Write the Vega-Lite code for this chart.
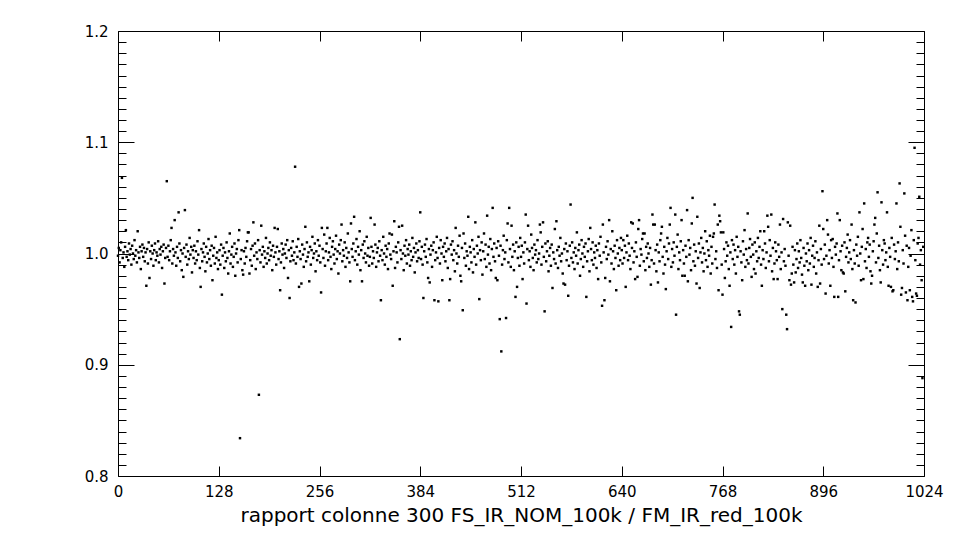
{
"$schema": "https://vega.github.io/schema/vega-lite/v6.json",
"width": 806, "height": 445,
"autosize": "none",
"padding": {"left": 118, "top": 31, "right": 36, "bottom": 64},
"background": "white",
"config": {"view": {"stroke": "black", "strokeWidth": 1}, "axis": {"domain": false, "ticks": false, "grid": true, "gridColor": "black", "gridOpacity": 1, "gridWidth": 1, "labelColor": "black", "titleColor": "black", "labelFont": "DejaVu Sans", "titleFont": "DejaVu Sans", "labelFontSize": 15, "titleFontSize": 20, "titleFontWeight": "normal"}},
"data": {"values": [
{"x":0,"y":0.998},{"x":1,"y":1.005},{"x":2,"y":0.992},{"x":3,"y":1.003},{"x":4,"y":1.010},{"x":5,"y":1.068},{"x":6,"y":0.996},{"x":7,"y":1.001},{"x":8,"y":0.988},{"x":9,"y":1.006},{"x":10,"y":1.021},{"x":11,"y":0.997},{"x":12,"y":1.002},{"x":13,"y":0.994},{"x":14,"y":1.009},{"x":15,"y":0.999},{"x":16,"y":1.004},{"x":17,"y":0.990},{"x":18,"y":1.007},{"x":19,"y":1.000},{"x":20,"y":0.995},{"x":21,"y":1.012},{"x":22,"y":0.998},{"x":23,"y":1.003},{"x":24,"y":0.992},{"x":25,"y":1.020},{"x":26,"y":1.001},{"x":27,"y":0.996},{"x":28,"y":1.006},{"x":29,"y":0.986},{"x":30,"y":1.002},{"x":31,"y":1.008},
{"x":32,"y":0.997},{"x":33,"y":1.005},{"x":34,"y":0.993},{"x":35,"y":1.001},{"x":36,"y":0.971},{"x":37,"y":1.004},{"x":38,"y":0.991},{"x":39,"y":1.010},{"x":40,"y":0.978},{"x":41,"y":1.002},{"x":42,"y":0.995},{"x":43,"y":1.007},{"x":44,"y":1.000},{"x":45,"y":0.989},{"x":46,"y":1.003},{"x":47,"y":1.009},{"x":48,"y":0.994},{"x":49,"y":1.001},{"x":50,"y":0.998},{"x":51,"y":1.011},{"x":52,"y":0.992},{"x":53,"y":1.004},{"x":54,"y":0.999},{"x":55,"y":1.006},{"x":56,"y":0.987},{"x":57,"y":1.002},{"x":58,"y":1.008},{"x":59,"y":0.973},{"x":60,"y":0.996},{"x":61,"y":1.005},{"x":62,"y":1.065},{"x":63,"y":0.997},
{"x":64,"y":1.007},{"x":65,"y":0.994},{"x":66,"y":1.002},{"x":67,"y":1.012},{"x":68,"y":1.023},{"x":69,"y":0.991},{"x":70,"y":1.004},{"x":71,"y":0.998},{"x":72,"y":1.030},{"x":73,"y":1.001},{"x":74,"y":0.989},{"x":75,"y":1.006},{"x":76,"y":0.996},{"x":77,"y":1.037},{"x":78,"y":1.009},{"x":79,"y":0.993},{"x":80,"y":1.003},{"x":81,"y":0.985},{"x":82,"y":1.000},{"x":83,"y":0.979},{"x":84,"y":1.005},{"x":85,"y":1.039},{"x":86,"y":0.997},{"x":87,"y":1.008},{"x":88,"y":0.990},{"x":89,"y":1.002},{"x":90,"y":0.995},{"x":91,"y":1.014},{"x":92,"y":0.999},{"x":93,"y":1.006},{"x":94,"y":0.983},{"x":95,"y":1.003},
{"x":96,"y":0.996},{"x":97,"y":1.007},{"x":98,"y":0.991},{"x":99,"y":1.002},{"x":100,"y":0.994},{"x":101,"y":1.011},{"x":102,"y":0.999},{"x":103,"y":1.021},{"x":104,"y":0.987},{"x":105,"y":0.970},{"x":106,"y":1.004},{"x":107,"y":0.993},{"x":108,"y":1.001},{"x":109,"y":1.009},{"x":110,"y":0.997},{"x":111,"y":0.984},{"x":112,"y":1.006},{"x":113,"y":0.992},{"x":114,"y":1.000},{"x":115,"y":1.013},{"x":116,"y":0.995},{"x":117,"y":1.003},{"x":118,"y":0.989},{"x":119,"y":1.007},{"x":120,"y":0.976},{"x":121,"y":0.998},{"x":122,"y":1.005},{"x":123,"y":0.991},{"x":124,"y":1.015},{"x":125,"y":0.996},{"x":126,"y":1.001},{"x":127,"y":0.986},
{"x":128,"y":0.994},{"x":129,"y":1.003},{"x":130,"y":0.990},{"x":131,"y":1.008},{"x":132,"y":0.963},{"x":133,"y":0.998},{"x":134,"y":1.005},{"x":135,"y":0.987},{"x":136,"y":1.001},{"x":137,"y":0.993},{"x":138,"y":1.010},{"x":139,"y":0.996},{"x":140,"y":0.982},{"x":141,"y":1.002},{"x":142,"y":1.018},{"x":143,"y":0.991},{"x":144,"y":0.999},{"x":145,"y":1.006},{"x":146,"y":0.988},{"x":147,"y":0.997},{"x":148,"y":1.009},{"x":149,"y":0.980},{"x":150,"y":1.000},{"x":151,"y":1.004},{"x":152,"y":0.992},{"x":153,"y":1.012},{"x":154,"y":1.021},{"x":155,"y":0.834},{"x":156,"y":0.995},{"x":157,"y":1.003},{"x":158,"y":0.985},{"x":159,"y":0.981},
{"x":160,"y":1.002},{"x":161,"y":0.991},{"x":162,"y":1.005},{"x":163,"y":0.997},{"x":164,"y":1.011},{"x":165,"y":1.019},{"x":166,"y":1.019},{"x":167,"y":0.982},{"x":168,"y":0.994},{"x":169,"y":1.004},{"x":170,"y":0.989},{"x":171,"y":1.007},{"x":172,"y":1.028},{"x":173,"y":0.998},{"x":174,"y":1.009},{"x":175,"y":0.986},{"x":176,"y":1.001},{"x":177,"y":0.995},{"x":178,"y":1.012},{"x":179,"y":0.873},{"x":180,"y":1.003},{"x":181,"y":0.992},{"x":182,"y":1.025},{"x":183,"y":0.999},{"x":184,"y":1.006},{"x":185,"y":0.988},{"x":186,"y":1.002},{"x":187,"y":0.996},{"x":188,"y":1.014},{"x":189,"y":0.991},{"x":190,"y":1.000},{"x":191,"y":1.005},
{"x":192,"y":0.994},{"x":193,"y":1.010},{"x":194,"y":0.998},{"x":195,"y":1.003},{"x":196,"y":0.985},{"x":197,"y":1.007},{"x":198,"y":0.997},{"x":199,"y":1.023},{"x":200,"y":1.001},{"x":201,"y":0.990},{"x":202,"y":1.006},{"x":203,"y":1.022},{"x":204,"y":0.995},{"x":205,"y":1.002},{"x":206,"y":0.967},{"x":207,"y":0.992},{"x":208,"y":1.009},{"x":209,"y":0.999},{"x":210,"y":1.004},{"x":211,"y":0.987},{"x":212,"y":1.000},{"x":213,"y":1.008},{"x":214,"y":0.996},{"x":215,"y":1.012},{"x":216,"y":0.978},{"x":217,"y":1.003},{"x":218,"y":0.960},{"x":219,"y":0.993},{"x":220,"y":1.005},{"x":221,"y":0.998},{"x":222,"y":1.011},{"x":223,"y":0.994},
{"x":224,"y":1.001},{"x":225,"y":1.078},{"x":226,"y":0.991},{"x":227,"y":1.006},{"x":228,"y":0.997},{"x":229,"y":1.013},{"x":230,"y":0.970},{"x":231,"y":1.002},{"x":232,"y":0.995},{"x":233,"y":0.973},{"x":234,"y":1.008},{"x":235,"y":0.999},{"x":236,"y":0.988},{"x":237,"y":1.004},{"x":238,"y":1.024},{"x":239,"y":0.993},{"x":240,"y":1.010},{"x":241,"y":0.997},{"x":242,"y":1.001},{"x":243,"y":0.975},{"x":244,"y":1.006},{"x":245,"y":0.990},{"x":246,"y":1.003},{"x":247,"y":1.015},{"x":248,"y":0.996},{"x":249,"y":1.000},{"x":250,"y":1.009},{"x":251,"y":0.984},{"x":252,"y":1.002},{"x":253,"y":0.994},{"x":254,"y":1.012},{"x":255,"y":0.998},
{"x":256,"y":1.007},{"x":257,"y":0.992},{"x":258,"y":0.965},{"x":259,"y":1.023},{"x":260,"y":1.004},{"x":261,"y":0.996},{"x":262,"y":1.017},{"x":263,"y":0.989},{"x":264,"y":1.002},{"x":265,"y":1.009},{"x":266,"y":1.023},{"x":267,"y":0.994},{"x":268,"y":1.001},{"x":269,"y":1.014},{"x":270,"y":0.997},{"x":271,"y":0.986},{"x":272,"y":1.006},{"x":273,"y":1.011},{"x":274,"y":0.999},{"x":275,"y":0.991},{"x":276,"y":1.004},{"x":277,"y":1.016},{"x":278,"y":0.995},{"x":279,"y":1.002},{"x":280,"y":0.982},{"x":281,"y":1.008},{"x":282,"y":1.000},{"x":283,"y":1.012},{"x":284,"y":1.026},{"x":285,"y":0.993},{"x":286,"y":1.003},{"x":287,"y":0.998},
{"x":288,"y":1.010},{"x":289,"y":0.988},{"x":290,"y":1.005},{"x":291,"y":0.996},{"x":292,"y":1.018},{"x":293,"y":1.001},{"x":294,"y":0.992},{"x":295,"y":0.975},{"x":296,"y":1.027},{"x":297,"y":1.004},{"x":298,"y":0.997},{"x":299,"y":1.009},{"x":300,"y":1.033},{"x":301,"y":0.994},{"x":302,"y":1.002},{"x":303,"y":1.013},{"x":304,"y":0.990},{"x":305,"y":1.006},{"x":306,"y":0.999},{"x":307,"y":1.020},{"x":308,"y":0.985},{"x":309,"y":1.003},{"x":310,"y":0.975},{"x":311,"y":1.008},{"x":312,"y":0.996},{"x":313,"y":1.011},{"x":314,"y":1.000},{"x":315,"y":0.992},{"x":316,"y":1.015},{"x":317,"y":0.998},{"x":318,"y":1.005},{"x":319,"y":0.989},
{"x":320,"y":0.997},{"x":321,"y":1.032},{"x":322,"y":1.006},{"x":323,"y":0.991},{"x":324,"y":1.002},{"x":325,"y":0.996},{"x":326,"y":1.026},{"x":327,"y":1.008},{"x":328,"y":0.988},{"x":329,"y":1.001},{"x":330,"y":1.005},{"x":331,"y":0.993},{"x":332,"y":1.011},{"x":333,"y":0.998},{"x":334,"y":0.958},{"x":335,"y":1.003},{"x":336,"y":0.994},{"x":337,"y":1.015},{"x":338,"y":1.000},{"x":339,"y":0.990},{"x":340,"y":1.007},{"x":341,"y":0.997},{"x":342,"y":1.004},{"x":343,"y":0.986},{"x":344,"y":1.009},{"x":345,"y":1.018},{"x":346,"y":0.999},{"x":347,"y":0.995},{"x":348,"y":1.017},{"x":349,"y":0.971},{"x":350,"y":1.002},{"x":351,"y":1.029},
{"x":352,"y":0.987},{"x":353,"y":1.006},{"x":354,"y":1.001},{"x":355,"y":0.992},{"x":356,"y":1.010},{"x":357,"y":1.024},{"x":358,"y":0.923},{"x":359,"y":1.003},{"x":360,"y":0.995},{"x":361,"y":1.025},{"x":362,"y":1.000},{"x":363,"y":0.985},{"x":364,"y":1.007},{"x":365,"y":0.998},{"x":366,"y":1.012},{"x":367,"y":0.991},{"x":368,"y":1.004},{"x":369,"y":0.999},{"x":370,"y":1.008},{"x":371,"y":0.989},{"x":372,"y":1.002},{"x":373,"y":0.994},{"x":374,"y":1.014},{"x":375,"y":0.997},{"x":376,"y":1.005},{"x":377,"y":0.983},{"x":378,"y":1.001},{"x":379,"y":1.009},{"x":380,"y":0.993},{"x":381,"y":1.003},{"x":382,"y":0.996},{"x":383,"y":1.011},
{"x":384,"y":1.037},{"x":385,"y":0.995},{"x":386,"y":1.006},{"x":387,"y":0.990},{"x":388,"y":0.960},{"x":389,"y":1.002},{"x":390,"y":1.008},{"x":391,"y":0.997},{"x":392,"y":1.013},{"x":393,"y":0.992},{"x":394,"y":0.978},{"x":395,"y":1.004},{"x":396,"y":0.974},{"x":397,"y":0.999},{"x":398,"y":1.007},{"x":399,"y":0.988},{"x":400,"y":1.003},{"x":401,"y":1.010},{"x":402,"y":0.958},{"x":403,"y":0.994},{"x":404,"y":1.001},{"x":405,"y":1.015},{"x":406,"y":0.996},{"x":407,"y":0.957},{"x":408,"y":1.005},{"x":409,"y":0.991},{"x":410,"y":1.012},{"x":411,"y":1.000},{"x":412,"y":0.976},{"x":413,"y":1.006},{"x":414,"y":0.997},{"x":415,"y":1.009},
{"x":416,"y":0.993},{"x":417,"y":1.002},{"x":418,"y":1.014},{"x":419,"y":0.987},{"x":420,"y":1.004},{"x":421,"y":0.958},{"x":422,"y":0.977},{"x":423,"y":1.008},{"x":424,"y":0.999},{"x":425,"y":1.011},{"x":426,"y":0.994},{"x":427,"y":1.003},{"x":428,"y":0.984},{"x":429,"y":1.023},{"x":430,"y":1.000},{"x":431,"y":0.991},{"x":432,"y":1.007},{"x":433,"y":0.997},{"x":434,"y":1.016},{"x":435,"y":0.980},{"x":436,"y":0.975},{"x":437,"y":1.005},{"x":438,"y":0.949},{"x":439,"y":1.018},{"x":440,"y":0.996},{"x":441,"y":1.009},{"x":442,"y":0.989},{"x":443,"y":1.002},{"x":444,"y":0.998},{"x":445,"y":1.033},{"x":446,"y":0.986},{"x":447,"y":1.006},
{"x":448,"y":1.001},{"x":449,"y":0.992},{"x":450,"y":1.012},{"x":451,"y":0.983},{"x":452,"y":1.004},{"x":453,"y":0.997},{"x":454,"y":1.028},{"x":455,"y":0.990},{"x":456,"y":1.007},{"x":457,"y":1.000},{"x":458,"y":1.015},{"x":459,"y":0.959},{"x":460,"y":1.003},{"x":461,"y":0.994},{"x":462,"y":1.010},{"x":463,"y":0.981},{"x":464,"y":1.002},{"x":465,"y":1.018},{"x":466,"y":0.995},{"x":467,"y":1.008},{"x":468,"y":0.988},{"x":469,"y":1.034},{"x":470,"y":0.999},{"x":471,"y":1.006},{"x":472,"y":0.991},{"x":473,"y":1.013},{"x":474,"y":0.985},{"x":475,"y":1.004},{"x":476,"y":1.041},{"x":477,"y":0.997},{"x":478,"y":1.009},{"x":479,"y":0.993},
{"x":480,"y":0.978},{"x":481,"y":1.005},{"x":482,"y":0.976},{"x":483,"y":1.011},{"x":484,"y":0.998},{"x":485,"y":0.941},{"x":486,"y":1.007},{"x":487,"y":0.912},{"x":488,"y":0.990},{"x":489,"y":1.003},{"x":490,"y":1.016},{"x":491,"y":0.995},{"x":492,"y":1.001},{"x":493,"y":0.942},{"x":494,"y":1.012},{"x":495,"y":1.027},{"x":496,"y":0.992},{"x":497,"y":1.041},{"x":498,"y":1.004},{"x":499,"y":0.988},{"x":500,"y":1.025},{"x":501,"y":0.997},{"x":502,"y":1.008},{"x":503,"y":0.985},{"x":504,"y":1.002},{"x":505,"y":0.961},{"x":506,"y":1.010},{"x":507,"y":0.970},{"x":508,"y":0.996},{"x":509,"y":1.006},{"x":510,"y":0.989},{"x":511,"y":1.014},
{"x":512,"y":0.997},{"x":513,"y":1.007},{"x":514,"y":0.977},{"x":515,"y":1.001},{"x":516,"y":0.991},{"x":517,"y":1.010},{"x":518,"y":1.035},{"x":519,"y":0.955},{"x":520,"y":1.004},{"x":521,"y":1.025},{"x":522,"y":0.994},{"x":523,"y":1.002},{"x":524,"y":0.988},{"x":525,"y":1.017},{"x":526,"y":1.005},{"x":527,"y":0.996},{"x":528,"y":0.985},{"x":529,"y":1.008},{"x":530,"y":0.999},{"x":531,"y":1.003},{"x":532,"y":0.992},{"x":533,"y":1.012},{"x":534,"y":0.995},{"x":535,"y":1.000},{"x":536,"y":1.026},{"x":537,"y":1.019},{"x":538,"y":0.990},{"x":539,"y":1.006},{"x":540,"y":1.028},{"x":541,"y":0.997},{"x":542,"y":0.948},{"x":543,"y":1.009},
{"x":544,"y":0.993},{"x":545,"y":1.002},{"x":546,"y":1.011},{"x":547,"y":0.984},{"x":548,"y":0.998},{"x":549,"y":1.005},{"x":550,"y":0.989},{"x":551,"y":1.008},{"x":552,"y":0.969},{"x":553,"y":1.001},{"x":554,"y":0.995},{"x":555,"y":1.022},{"x":556,"y":0.991},{"x":557,"y":1.029},{"x":558,"y":1.003},{"x":559,"y":0.987},{"x":560,"y":1.006},{"x":561,"y":0.998},{"x":562,"y":1.014},{"x":563,"y":0.993},{"x":564,"y":1.000},{"x":565,"y":0.982},{"x":566,"y":0.973},{"x":567,"y":1.004},{"x":568,"y":0.972},{"x":569,"y":1.009},{"x":570,"y":0.994},{"x":571,"y":1.002},{"x":572,"y":0.962},{"x":573,"y":0.989},{"x":574,"y":1.007},{"x":575,"y":1.044},
{"x":576,"y":0.996},{"x":577,"y":1.010},{"x":578,"y":0.992},{"x":579,"y":1.001},{"x":580,"y":0.986},{"x":581,"y":1.005},{"x":582,"y":0.998},{"x":583,"y":1.019},{"x":584,"y":0.991},{"x":585,"y":1.003},{"x":586,"y":1.008},{"x":587,"y":0.980},{"x":588,"y":0.995},{"x":589,"y":1.012},{"x":590,"y":1.000},{"x":591,"y":0.988},{"x":592,"y":1.006},{"x":593,"y":0.997},{"x":594,"y":1.009},{"x":595,"y":0.961},{"x":596,"y":0.993},{"x":597,"y":1.002},{"x":598,"y":1.013},{"x":599,"y":0.984},{"x":600,"y":1.023},{"x":601,"y":1.004},{"x":602,"y":0.994},{"x":603,"y":1.010},{"x":604,"y":0.990},{"x":605,"y":1.001},{"x":606,"y":0.996},{"x":607,"y":1.007},
{"x":608,"y":0.987},{"x":609,"y":1.003},{"x":610,"y":0.977},{"x":611,"y":1.009},{"x":612,"y":0.998},{"x":613,"y":1.015},{"x":614,"y":0.992},{"x":615,"y":0.953},{"x":616,"y":1.026},{"x":617,"y":1.001},{"x":618,"y":0.958},{"x":619,"y":0.978},{"x":620,"y":1.006},{"x":621,"y":0.995},{"x":622,"y":1.011},{"x":623,"y":0.999},{"x":624,"y":1.030},{"x":625,"y":0.975},{"x":626,"y":1.004},{"x":627,"y":0.991},{"x":628,"y":1.020},{"x":629,"y":1.002},{"x":630,"y":0.986},{"x":631,"y":1.007},{"x":632,"y":0.996},{"x":633,"y":0.967},{"x":634,"y":1.012},{"x":635,"y":1.000},{"x":636,"y":0.989},{"x":637,"y":1.005},{"x":638,"y":0.994},{"x":639,"y":1.014},
{"x":640,"y":1.003},{"x":641,"y":0.991},{"x":642,"y":1.012},{"x":643,"y":0.996},{"x":644,"y":1.007},{"x":645,"y":0.970},{"x":646,"y":1.001},{"x":647,"y":1.016},{"x":648,"y":0.994},{"x":649,"y":1.009},{"x":650,"y":0.998},{"x":651,"y":0.986},{"x":652,"y":1.028},{"x":653,"y":1.005},{"x":654,"y":1.027},{"x":655,"y":0.992},{"x":656,"y":1.002},{"x":657,"y":0.977},{"x":658,"y":1.010},{"x":659,"y":0.997},{"x":660,"y":0.979},{"x":661,"y":1.022},{"x":662,"y":1.030},{"x":663,"y":0.989},{"x":664,"y":1.004},{"x":665,"y":0.999},{"x":666,"y":1.013},{"x":667,"y":1.018},{"x":668,"y":0.993},{"x":669,"y":1.018},{"x":670,"y":0.985},{"x":671,"y":1.006},
{"x":672,"y":0.996},{"x":673,"y":1.009},{"x":674,"y":1.000},{"x":675,"y":0.988},{"x":676,"y":1.005},{"x":677,"y":0.972},{"x":678,"y":0.994},{"x":679,"y":1.035},{"x":680,"y":1.026},{"x":681,"y":0.991},{"x":682,"y":1.026},{"x":683,"y":1.003},{"x":684,"y":0.984},{"x":685,"y":1.008},{"x":686,"y":0.974},{"x":687,"y":1.001},{"x":688,"y":0.993},{"x":689,"y":1.012},{"x":690,"y":1.018},{"x":691,"y":1.024},{"x":692,"y":0.997},{"x":693,"y":0.982},{"x":694,"y":1.006},{"x":695,"y":0.990},{"x":696,"y":0.968},{"x":697,"y":1.002},{"x":698,"y":1.014},{"x":699,"y":0.995},{"x":700,"y":1.009},{"x":701,"y":1.026},{"x":702,"y":1.041},{"x":703,"y":0.988},
{"x":704,"y":1.004},{"x":705,"y":0.992},{"x":706,"y":1.010},{"x":707,"y":0.998},{"x":708,"y":1.035},{"x":709,"y":0.945},{"x":710,"y":1.006},{"x":711,"y":1.017},{"x":712,"y":0.986},{"x":713,"y":1.001},{"x":714,"y":0.994},{"x":715,"y":1.011},{"x":716,"y":1.030},{"x":717,"y":0.980},{"x":718,"y":1.003},{"x":719,"y":0.991},{"x":720,"y":0.980},{"x":721,"y":1.007},{"x":722,"y":0.997},{"x":723,"y":1.039},{"x":724,"y":0.975},{"x":725,"y":1.012},{"x":726,"y":0.999},{"x":727,"y":1.005},{"x":728,"y":0.985},{"x":729,"y":1.027},{"x":730,"y":1.050},{"x":731,"y":0.993},{"x":732,"y":1.008},{"x":733,"y":0.989},{"x":734,"y":1.002},{"x":735,"y":0.973},
{"x":736,"y":1.033},{"x":737,"y":0.996},{"x":738,"y":1.009},{"x":739,"y":0.969},{"x":740,"y":1.001},{"x":741,"y":1.014},{"x":742,"y":0.992},{"x":743,"y":1.005},{"x":744,"y":0.984},{"x":745,"y":1.000},{"x":746,"y":1.020},{"x":747,"y":0.994},{"x":748,"y":1.011},{"x":749,"y":0.988},{"x":750,"y":1.003},{"x":751,"y":0.998},{"x":752,"y":1.016},{"x":753,"y":0.982},{"x":754,"y":1.006},{"x":755,"y":0.991},{"x":756,"y":1.015},{"x":757,"y":1.018},{"x":758,"y":1.044},{"x":759,"y":0.995},{"x":760,"y":1.002},{"x":761,"y":0.987},{"x":762,"y":1.026},{"x":763,"y":0.967},{"x":764,"y":1.034},{"x":765,"y":1.029},{"x":766,"y":1.019},{"x":767,"y":0.990},
{"x":768,"y":0.963},{"x":769,"y":1.019},{"x":770,"y":1.004},{"x":771,"y":0.978},{"x":772,"y":0.993},{"x":773,"y":1.010},{"x":774,"y":0.998},{"x":775,"y":1.007},{"x":776,"y":0.986},{"x":777,"y":0.971},{"x":778,"y":1.001},{"x":779,"y":0.934},{"x":780,"y":1.012},{"x":781,"y":0.995},{"x":782,"y":1.008},{"x":783,"y":0.990},{"x":784,"y":1.003},{"x":785,"y":0.982},{"x":786,"y":1.015},{"x":787,"y":0.997},{"x":788,"y":1.006},{"x":789,"y":0.948},{"x":790,"y":0.945},{"x":791,"y":1.002},{"x":792,"y":0.992},{"x":793,"y":0.976},{"x":794,"y":1.011},{"x":795,"y":0.999},{"x":796,"y":1.021},{"x":797,"y":0.988},{"x":798,"y":1.004},{"x":799,"y":0.994},
{"x":800,"y":1.036},{"x":801,"y":0.991},{"x":802,"y":1.005},{"x":803,"y":1.013},{"x":804,"y":0.997},{"x":805,"y":0.979},{"x":806,"y":1.008},{"x":807,"y":0.999},{"x":808,"y":0.986},{"x":809,"y":1.010},{"x":810,"y":0.982},{"x":811,"y":1.002},{"x":812,"y":0.993},{"x":813,"y":1.014},{"x":814,"y":0.996},{"x":815,"y":1.006},{"x":816,"y":1.020},{"x":817,"y":0.990},{"x":818,"y":0.971},{"x":819,"y":1.003},{"x":820,"y":0.995},{"x":821,"y":1.020},{"x":822,"y":1.009},{"x":823,"y":0.987},{"x":824,"y":1.001},{"x":825,"y":1.034},{"x":826,"y":1.024},{"x":827,"y":0.993},{"x":828,"y":1.012},{"x":829,"y":0.998},{"x":830,"y":1.035},{"x":831,"y":0.984},
{"x":832,"y":1.005},{"x":833,"y":0.977},{"x":834,"y":0.991},{"x":835,"y":1.010},{"x":836,"y":1.002},{"x":837,"y":0.994},{"x":838,"y":0.977},{"x":839,"y":1.008},{"x":840,"y":0.997},{"x":841,"y":1.026},{"x":842,"y":0.986},{"x":843,"y":1.001},{"x":844,"y":0.950},{"x":845,"y":1.031},{"x":846,"y":0.993},{"x":847,"y":1.004},{"x":848,"y":0.989},{"x":849,"y":0.945},{"x":850,"y":0.932},{"x":851,"y":1.028},{"x":852,"y":0.998},{"x":853,"y":0.976},{"x":854,"y":1.025},{"x":855,"y":0.972},{"x":856,"y":0.982},{"x":857,"y":1.006},{"x":858,"y":0.990},{"x":859,"y":0.974},{"x":860,"y":1.003},{"x":861,"y":0.983},{"x":862,"y":0.995},{"x":863,"y":1.009},
{"x":864,"y":0.987},{"x":865,"y":1.002},{"x":866,"y":0.992},{"x":867,"y":1.012},{"x":868,"y":0.996},{"x":869,"y":0.981},{"x":870,"y":0.974},{"x":871,"y":1.005},{"x":872,"y":0.989},{"x":873,"y":0.971},{"x":874,"y":1.000},{"x":875,"y":0.993},{"x":876,"y":1.009},{"x":877,"y":0.985},{"x":878,"y":1.003},{"x":879,"y":0.991},{"x":880,"y":1.014},{"x":881,"y":0.972},{"x":882,"y":0.998},{"x":883,"y":1.007},{"x":884,"y":0.988},{"x":885,"y":0.996},{"x":886,"y":1.011},{"x":887,"y":0.982},{"x":888,"y":1.001},{"x":889,"y":0.970},{"x":890,"y":0.994},{"x":891,"y":1.025},{"x":892,"y":0.973},{"x":893,"y":1.004},{"x":894,"y":0.990},{"x":895,"y":1.056},
{"x":896,"y":1.022},{"x":897,"y":0.995},{"x":898,"y":1.008},{"x":899,"y":0.964},{"x":900,"y":0.998},{"x":901,"y":1.030},{"x":902,"y":1.017},{"x":903,"y":0.991},{"x":904,"y":1.003},{"x":905,"y":0.971},{"x":906,"y":1.012},{"x":907,"y":0.996},{"x":908,"y":1.013},{"x":909,"y":0.988},{"x":910,"y":0.961},{"x":911,"y":1.006},{"x":912,"y":0.999},{"x":913,"y":1.009},{"x":914,"y":1.036},{"x":915,"y":0.961},{"x":916,"y":0.994},{"x":917,"y":1.030},{"x":918,"y":1.002},{"x":919,"y":0.985},{"x":920,"y":1.007},{"x":921,"y":0.983},{"x":922,"y":0.982},{"x":923,"y":1.010},{"x":924,"y":0.966},{"x":925,"y":0.997},{"x":926,"y":1.005},{"x":927,"y":1.017},
{"x":928,"y":0.992},{"x":929,"y":1.001},{"x":930,"y":1.012},{"x":931,"y":0.995},{"x":932,"y":1.026},{"x":933,"y":0.986},{"x":934,"y":0.958},{"x":935,"y":1.003},{"x":936,"y":0.991},{"x":937,"y":0.956},{"x":938,"y":1.008},{"x":939,"y":0.998},{"x":940,"y":1.015},{"x":941,"y":0.989},{"x":942,"y":1.037},{"x":943,"y":1.000},{"x":944,"y":0.976},{"x":945,"y":1.006},{"x":946,"y":1.022},{"x":947,"y":0.977},{"x":948,"y":1.045},{"x":949,"y":0.993},{"x":950,"y":1.004},{"x":951,"y":0.987},{"x":952,"y":1.010},{"x":953,"y":1.014},{"x":954,"y":0.997},{"x":955,"y":1.008},{"x":956,"y":0.984},{"x":957,"y":0.973},{"x":958,"y":0.980},{"x":959,"y":1.002},
{"x":960,"y":1.011},{"x":961,"y":1.026},{"x":962,"y":1.032},{"x":963,"y":0.992},{"x":964,"y":1.018},{"x":965,"y":1.055},{"x":966,"y":0.996},{"x":967,"y":1.007},{"x":968,"y":0.985},{"x":969,"y":0.974},{"x":970,"y":1.046},{"x":971,"y":1.003},{"x":972,"y":0.990},{"x":973,"y":1.012},{"x":974,"y":1.009},{"x":975,"y":0.994},{"x":976,"y":1.001},{"x":977,"y":1.037},{"x":978,"y":0.988},{"x":979,"y":0.971},{"x":980,"y":1.005},{"x":981,"y":0.997},{"x":982,"y":0.970},{"x":983,"y":1.014},{"x":984,"y":0.966},{"x":985,"y":0.967},{"x":986,"y":1.008},{"x":987,"y":0.995},{"x":988,"y":1.002},{"x":989,"y":1.045},{"x":990,"y":0.986},{"x":991,"y":1.010},
{"x":992,"y":0.993},{"x":993,"y":1.063},{"x":994,"y":1.024},{"x":995,"y":0.963},{"x":996,"y":0.969},{"x":997,"y":1.003},{"x":998,"y":0.991},{"x":999,"y":1.054},{"x":1000,"y":1.016},{"x":1001,"y":0.965},{"x":1002,"y":1.007},{"x":1003,"y":0.958},{"x":1004,"y":0.988},{"x":1005,"y":1.005},{"x":1006,"y":0.967},{"x":1007,"y":0.998},{"x":1008,"y":1.021},{"x":1009,"y":0.961},{"x":1010,"y":0.957},{"x":1011,"y":1.012},{"x":1012,"y":1.095},{"x":1013,"y":0.994},{"x":1014,"y":0.964},{"x":1015,"y":0.962},{"x":1016,"y":1.009},{"x":1017,"y":1.014},{"x":1018,"y":1.051},{"x":1019,"y":0.990},{"x":1020,"y":1.003},{"x":1021,"y":0.976},{"x":1022,"y":0.888},{"x":1023,"y":1.006}
]},
"mark": {"type": "point", "shape": "square", "filled": true, "size": 6, "color": "black", "opacity": 1, "strokeWidth": 0},
"encoding": {
"x": {"field": "x", "type": "quantitative", "scale": {"domain": [0, 1024], "nice": false, "zero": false},
"axis": {"orient": "bottom", "values": [0,128,256,384,512,640,768,896,1024], "gridDash": [10, 425], "labelPadding": 8, "labelFlush": false, "labelOverlap": false, "format": "d", "title": "rapport colonne 300 FS_IR_NOM_100k / FM_IR_red_100k", "titlePadding": 6}},
"y": {"field": "y", "type": "quantitative", "scale": {"domain": [0.8, 1.2], "nice": false, "zero": false},
"axis": {"orient": "left", "values": [0.8,0.81,0.82,0.83,0.84,0.85,0.86,0.87,0.88,0.89,0.9,0.91,0.92,0.93,0.94,0.95,0.96,0.97,0.98,0.99,1.0,1.01,1.02,1.03,1.04,1.05,1.06,1.07,1.08,1.09,1.1,1.11,1.12,1.13,1.14,1.15,1.16,1.17,1.18,1.19,1.2],
"gridDash": {"condition": {"test": "abs(datum.value*10 - round(datum.value*10)) < 0.001", "value": [16, 774]}, "value": [8, 790]},
"labelExpr": "abs(datum.value*10 - round(datum.value*10)) < 0.001 ? format(datum.value, '.1f') : ''",
"labelPadding": 10, "labelOverlap": false, "title": null}}
}
}
